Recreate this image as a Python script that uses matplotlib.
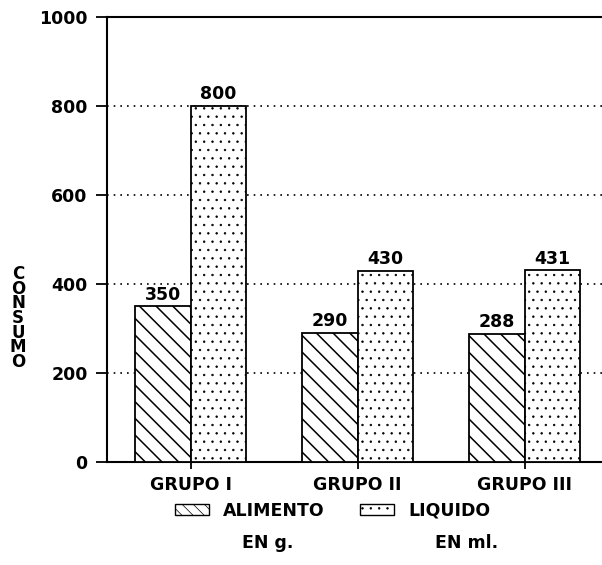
import matplotlib.pyplot as plt
import numpy as np
from matplotlib.patches import Patch

# data
grupos = ['GRUPO I', 'GRUPO II', 'GRUPO III']
alimento = [350, 290, 288]
liquido = [800, 430, 431]
yticks = [0, 200, 400, 600, 800, 1000]

plt.rcParams['font.family'] = 'DejaVu Sans'
plt.rcParams['font.weight'] = 'bold'
fs = 12.5

fig = plt.figure(figsize=(6.02, 5.65), dpi=100)
ax = fig.add_axes([0.178, 0.182, 0.832, 0.788])

x = np.arange(len(grupos))
w = 0.333

# bars (hatch linewidth is picked up when each patch is made)
plt.rcParams['hatch.linewidth'] = 1.1
b1 = ax.bar(x - w / 2, alimento, w, facecolor='white', edgecolor='black',
            hatch='\\\\', linewidth=1.3, zorder=3)
plt.rcParams['hatch.linewidth'] = 0.5
b2 = ax.bar(x + w / 2, liquido, w, facecolor='white', edgecolor='black',
            hatch='..', linewidth=1.3, zorder=3)

ax.bar_label(b1, padding=2, fontsize=fs, fontweight='bold')
ax.bar_label(b2, padding=2, fontsize=fs, fontweight='bold')

# axes and grid
ax.set_xlim(-0.5, 2.5)
ax.set_ylim(0, 1000)
ax.set_yticks(yticks)
ax.set_xticks(x)
ax.set_xticklabels(grupos, fontsize=fs, fontweight='bold')
ax.tick_params(axis='y', labelsize=fs, length=8, width=1.3, pad=6)
ax.tick_params(axis='x', length=5, width=1.3, pad=5)
for lab in ax.get_yticklabels():
    lab.set_fontweight('bold')

ax.grid(axis='y', color='black', linestyle=(0, (1, 3)), linewidth=1.2, zorder=0)
for s in ['left', 'bottom', 'top']:
    ax.spines[s].set_linewidth(1.5)
ax.spines['right'].set_visible(False)

# vertical stacked y label
fig.text(0.030, 0.437, '\n'.join('CONSUMO'), ha='center', va='center',
         fontsize=12, fontweight='bold', linespacing=0.76)

# legend
plt.rcParams['hatch.linewidth'] = 1.1
h1 = Patch(facecolor='white', edgecolor='black', hatch='\\\\\\')
plt.rcParams['hatch.linewidth'] = 0.5
h2 = Patch(facecolor='white', edgecolor='black', hatch='..')
leg = fig.legend([h1, h2], ['ALIMENTO', 'LIQUIDO'], ncol=2,
                 loc='center left', bbox_to_anchor=(0.29, 0.096), frameon=False,
                 fontsize=fs, handlelength=2.0, handleheight=0.65,
                 columnspacing=2.0, handletextpad=0.8, borderpad=0,
                 borderaxespad=0)
for t in leg.get_texts():
    t.set_fontweight('bold')
fig.text(0.445, 0.039, 'EN g.', ha='center', va='center', fontsize=fs,
         fontweight='bold')
fig.text(0.775, 0.039, 'EN ml.', ha='center', va='center', fontsize=fs,
         fontweight='bold')

plt.savefig('out.png', dpi=100, facecolor='white')
